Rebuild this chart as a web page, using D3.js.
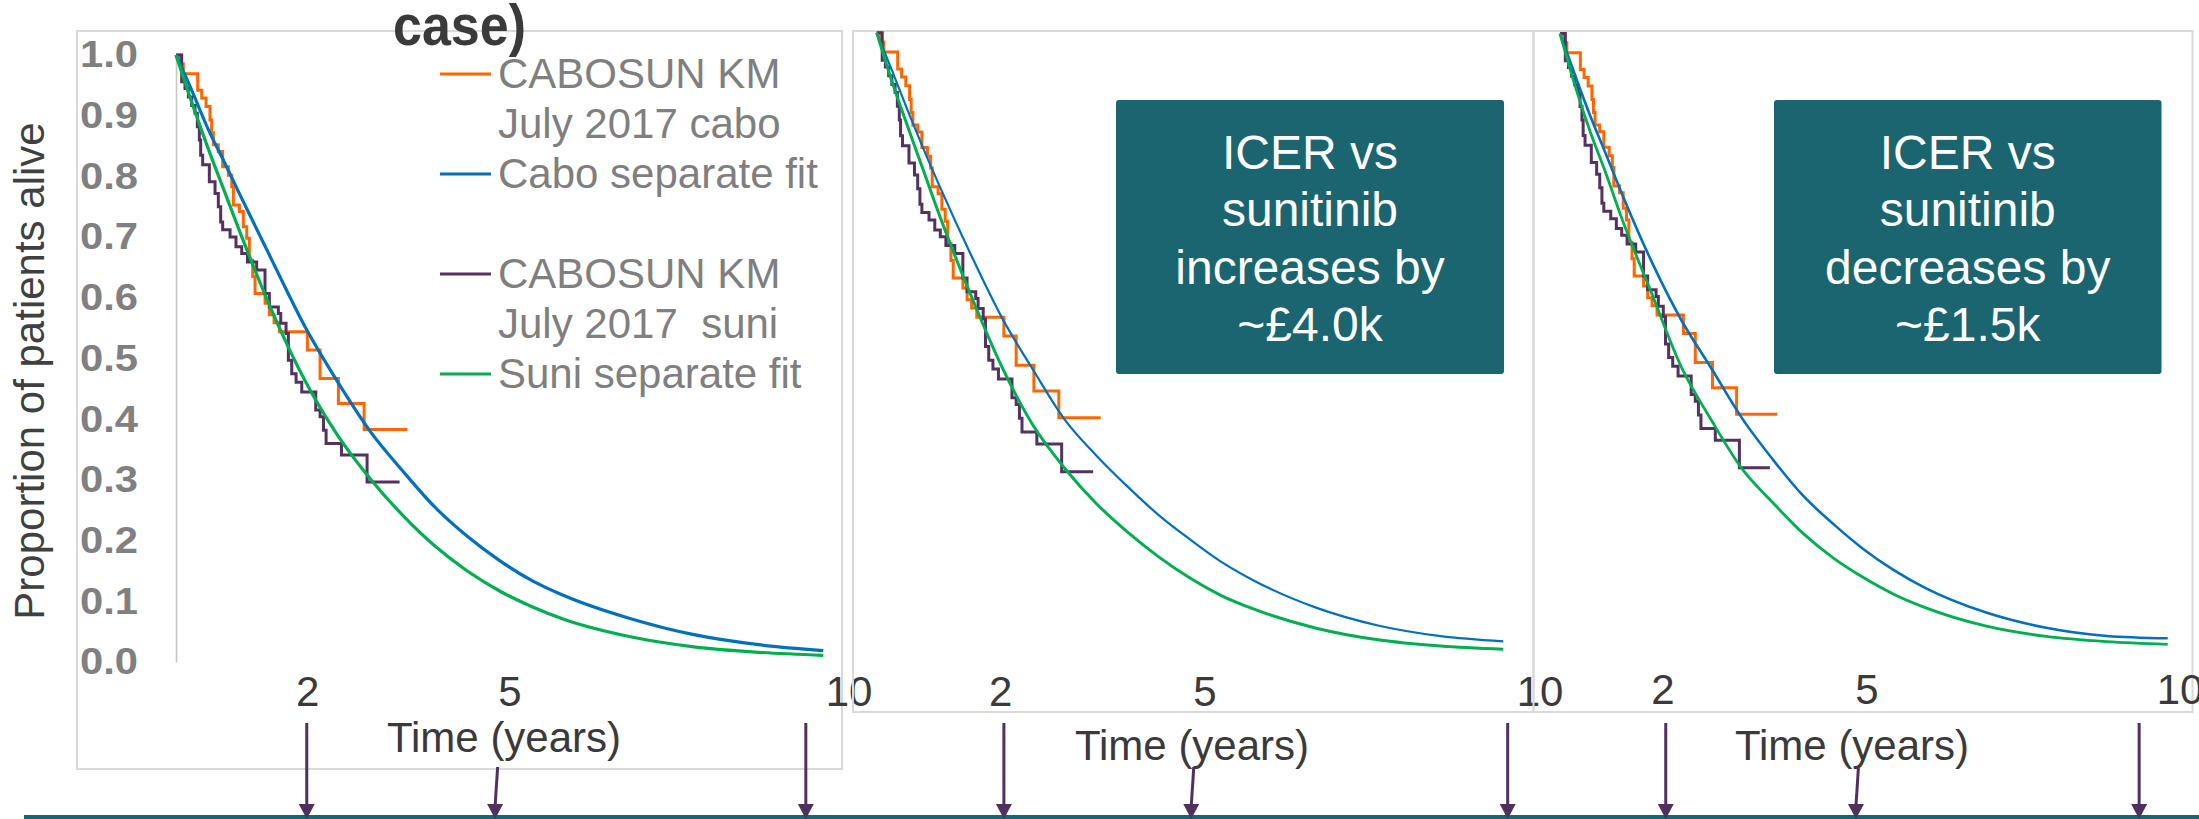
<!DOCTYPE html>
<html>
<head>
<meta charset="utf-8">
<script src="https://cdn.jsdelivr.net/npm/d3@7"></script>
<style>
  html, body { margin: 0; padding: 0; background: #ffffff; }
  svg { display: block; font-family: "Liberation Sans", Arial, sans-serif; }
</style>
</head>
<body>
<svg id="chart" width="2199" height="819"></svg>
<script>
// ---------------- DATA ----------------
// CABOSUN Kaplan-Meier (July 2017), time in years, proportion alive
const kmCaboTime = [0, 0.06, 0.113, 0.335, 0.397, 0.464, 0.525, 0.55, 0.577, 0.654, 0.721, 0.809, 0.861, 0.886, 0.979, 1.04, 1.093, 1.133, 1.185, 1.221, 1.376, 1.443, 1.515, 1.597, 2.03, 2.226, 2.509, 2.906, 3.575];
const kmCaboSurv = [1.0, 0.985, 0.969, 0.942, 0.929, 0.915, 0.893, 0.872, 0.852, 0.841, 0.816, 0.802, 0.783, 0.753, 0.742, 0.717, 0.698, 0.662, 0.635, 0.607, 0.591, 0.572, 0.559, 0.544, 0.514, 0.467, 0.426, 0.383, 0.383];
const kmSuniTime = [0, 0.088, 0.139, 0.191, 0.242, 0.294, 0.330, 0.361, 0.381, 0.412, 0.515, 0.603, 0.654, 0.690, 0.721, 0.835, 0.927, 1.015, 1.104, 1.246, 1.375, 1.442, 1.581, 1.618, 1.700, 1.736, 1.788, 1.855, 1.943, 2.159, 2.226, 2.278, 2.319, 2.556, 2.952, 3.454];
const kmSuniSurv = [1.0, 0.956, 0.945, 0.931, 0.917, 0.904, 0.882, 0.860, 0.835, 0.819, 0.791, 0.772, 0.750, 0.725, 0.712, 0.700, 0.684, 0.673, 0.659, 0.646, 0.607, 0.585, 0.574, 0.558, 0.541, 0.497, 0.475, 0.461, 0.445, 0.415, 0.404, 0.382, 0.360, 0.341, 0.2965, 0.2965];

// Fitted curves (years)
const fitTime = [0, 0.25, 0.5, 0.75, 1, 1.5, 2, 2.5, 3, 3.5, 4, 4.5, 5, 5.5, 6, 7, 8, 9, 10];
// panel 1 (base case)
const caboFitBase = [1.0, 0.940, 0.877, 0.823, 0.767, 0.658, 0.551, 0.461, 0.380, 0.315, 0.255, 0.207, 0.167, 0.134, 0.109, 0.072, 0.045, 0.0285, 0.0186];
const suniFitBase = [1.0, 0.920, 0.845, 0.775, 0.705, 0.574, 0.462, 0.373, 0.302, 0.242, 0.191, 0.150, 0.117, 0.091, 0.070, 0.042, 0.025, 0.016, 0.011];
// panel 2 (ICER increases)
const caboFitUp = [1.0, 0.938, 0.874, 0.813, 0.755, 0.645, 0.543, 0.459, 0.380, 0.323, 0.273, 0.227, 0.188, 0.152, 0.123, 0.079, 0.050, 0.033, 0.0247];
const suniFitUp = [1.0, 0.920, 0.848, 0.778, 0.708, 0.580, 0.464, 0.370, 0.302, 0.246, 0.200, 0.160, 0.126, 0.098, 0.077, 0.046, 0.027, 0.017, 0.0119];
// panel 3 (ICER decreases)
const caboFitDown = [1.0, 0.932, 0.866, 0.806, 0.745, 0.632, 0.535, 0.456, 0.376, 0.310, 0.251, 0.205, 0.164, 0.130, 0.102, 0.062, 0.037, 0.0237, 0.0199];
const suniFitDown = [1.0, 0.915, 0.840, 0.775, 0.705, 0.581, 0.459, 0.372, 0.294, 0.240, 0.190, 0.150, 0.118, 0.091, 0.070, 0.040, 0.023, 0.0145, 0.0102];

// Axis ticks / labels
const yTickValues = [0, 0.1, 0.2, 0.3, 0.4, 0.5, 0.6, 0.7, 0.8, 0.9, 1.0];
const xTickYears = [2, 5, 10];
const xTickLabels = ["2", "5", "10"];
const xAxisTitle = "Time (years)";
const yAxisTitle = "Proportion of patients alive";
const titleFragment = "case)";

const legendLabels = [
  ["CABOSUN KM", "July 2017 cabo"],
  ["Cabo separate fit"],
  [],
  ["CABOSUN KM", "July 2017  suni"],
  ["Suni separate fit"]
];
const legendColors = ["#ff6600", "#0070c0", null, "#553063", "#00b050"];

const boxTextUp = ["ICER vs", "sunitinib", "increases by", "~\u00a34.0k"];
const boxTextDown = ["ICER vs", "sunitinib", "decreases by", "~\u00a31.5k"];

// Arrow annotation times (years on each panel's time axis)
const arrowYears1 = [2.02, 4.93, 9.73];
const arrowYears2 = [2.03, 5.02, 10.07];
const arrowYears3 = [1.74, 4.87, 9.53];

// ---------------- STYLE / LAYOUT ----------------
const C = {
  orange: "#ff6600", blue: "#0070c0", purple: "#553063", green: "#00b050",
  frame: "#d9d9d9", axis: "#c6c6c6", tickGray: "#808080", dark: "#3a3a3a",
  legendGray: "#7f7f7f", teal: "#1a6570", arrow: "#50305f"
};

const panels = [
  { frame: [77, 31, 842, 769], xr: [176, 823.3], yr: [662, 55],
    cabo: caboFitBase, suni: suniFitBase, blueW: 3.2, greenW: 3.2,
    labelRange: [307.6, 510, 849], labelBase: 706, titleX: 504, titleBase: 752,
    arrows: arrowYears1, yAxis: true },
  { frame: [853, 31, 1533.5, 712], xr: [876.7, 1503.3], yr: [656.7, 32.7],
    cabo: caboFitUp, suni: suniFitUp, blueW: 2.2, greenW: 3.0,
    labelRange: [1000.8, 1205, 1540], labelBase: 706, titleX: 1192, titleBase: 760,
    arrows: arrowYears2, box: [1116, 100, 1504, 374], boxText: boxTextUp },
  { frame: [1533.5, 31, 2192.5, 712], xr: [1560, 2167.7], yr: [650.6, 33.6],
    cabo: caboFitDown, suni: suniFitDown, blueW: 2.6, greenW: 2.8,
    labelRange: [1663, 1867, 2180], labelBase: 704, titleX: 1852, titleBase: 760,
    arrows: arrowYears3, box: [1774, 100, 2161.5, 374], boxText: boxTextDown }
];

const svg = d3.select("#chart");

// bottom teal rule
svg.append("rect").attr("x", 24).attr("y", 815).attr("width", 2199 - 24).attr("height", 4).attr("fill", C.teal);

const kmCabo = kmCaboTime.map((t, i) => ({ t, s: kmCaboSurv[i] }));
const kmSuni = kmSuniTime.map((t, i) => ({ t, s: kmSuniSurv[i] }));

panels.forEach((p, pi) => {
  const g = svg.append("g");
  const [fx0, fy0, fx1, fy1] = p.frame;
  g.append("rect").attr("x", fx0).attr("y", fy0).attr("width", fx1 - fx0).attr("height", fy1 - fy0)
    .attr("fill", "none").attr("stroke", C.frame).attr("stroke-width", 2);

  const x = d3.scaleLinear().domain([0, 10]).range(p.xr);
  const y = d3.scaleLinear().domain([0, 1]).range(p.yr);

  if (p.yAxis) {
    const ax = g.append("g").attr("transform", `translate(${p.xr[0]},0)`)
      .call(d3.axisLeft(y).tickValues(yTickValues).tickSize(0).tickPadding(38).tickFormat(d3.format(".1f")));
    ax.select(".domain").attr("stroke", C.axis).attr("stroke-width", 1.6);
    ax.selectAll("text").attr("fill", C.tickGray).attr("font-size", 37).attr("font-weight", "bold")
      .attr("font-family", '"Liberation Sans", Arial, sans-serif')
      .attr("textLength", 58).attr("lengthAdjust", "spacingAndGlyphs");
  }

  // x tick labels (placed on the panel's label axis)
  const xl = d3.scaleLinear().domain(xTickYears).range(p.labelRange);
  g.selectAll("text.xt").data(xTickYears).join("text")
    .attr("class", "xt").attr("x", d => xl(d)).attr("y", p.labelBase)
    .attr("text-anchor", "middle").attr("font-size", 42).attr("fill", C.dark)
    .text((d, i) => xTickLabels[i]);

  g.append("text").attr("x", p.titleX).attr("y", p.titleBase).attr("text-anchor", "middle")
    .attr("font-size", 42).attr("fill", C.dark).text(xAxisTitle);

  // KM steps
  const stepLine = d3.line().x(d => x(d.t)).y(d => y(d.s)).curve(d3.curveStepAfter);
  g.append("path").datum(kmCabo).attr("d", stepLine).attr("fill", "none")
    .attr("stroke", C.orange).attr("stroke-width", 3).attr("stroke-linejoin", "miter");
  g.append("path").datum(kmSuni).attr("d", stepLine).attr("fill", "none")
    .attr("stroke", C.purple).attr("stroke-width", 3).attr("stroke-linejoin", "miter");

  // fitted curves
  const fitLine = d3.line().x(d => x(d.t)).y(d => y(d.s)).curve(d3.curveMonotoneX);
  g.append("path").datum(fitTime.map((t, i) => ({ t, s: p.cabo[i] }))).attr("d", fitLine)
    .attr("fill", "none").attr("stroke", C.blue).attr("stroke-width", p.blueW);
  g.append("path").datum(fitTime.map((t, i) => ({ t, s: p.suni[i] }))).attr("d", fitLine)
    .attr("fill", "none").attr("stroke", C.green).attr("stroke-width", p.greenW);

  // ICER box
  if (p.box) {
    const [bx0, by0, bx1, by1] = p.box;
    g.append("rect").attr("x", bx0).attr("y", by0).attr("width", bx1 - bx0).attr("height", by1 - by0)
      .attr("rx", 3).attr("fill", C.teal);
    g.selectAll("text.bt").data(p.boxText).join("text").attr("class", "bt")
      .attr("x", (bx0 + bx1) / 2).attr("y", (d, i) => 168.5 + i * 57.6)
      .attr("text-anchor", "middle").attr("font-size", 48).attr("fill", "#ffffff").text(d => d);
  }

  // arrows
  p.arrows.forEach((yr, ai) => {
    const ax = x(yr);
    const short = ai === 1;
    const topY = short ? 767 : 723;
    const topX = short ? ax + 2.5 : ax;
    g.append("line").attr("x1", topX).attr("y1", topY).attr("x2", ax).attr("y2", 806)
      .attr("stroke", C.arrow).attr("stroke-width", 3);
    g.append("path").attr("d", `M${ax - 8},804 L${ax + 8},804 L${ax},819 Z`).attr("fill", C.arrow);
  });
});

// y-axis title (panel 1)
svg.append("text").attr("transform", "translate(44,371) rotate(-90)").attr("text-anchor", "middle")
  .attr("font-size", 42).attr("fill", "#404040").text(yAxisTitle);

// title fragment
svg.append("text").attr("x", 393).attr("y", 45).attr("font-size", 58).attr("font-weight", "bold")
  .attr("fill", C.dark).attr("textLength", 133).attr("lengthAdjust", "spacingAndGlyphs").text(titleFragment);

// legend
const lg = svg.append("g");
const legendRowY = [88, 188, 238, 288, 388];
let rowBase = [ [88, 138], [188], [], [288, 338], [388] ];
legendLabels.forEach((lines, i) => {
  if (!lines.length) return;
  const base = rowBase[i];
  lg.append("line").attr("x1", 440).attr("x2", 491).attr("y1", base[0] - 14).attr("y2", base[0] - 14)
    .attr("stroke", legendColors[i]).attr("stroke-width", 3.2);
  lines.forEach((txt, j) => {
    lg.append("text").attr("x", 498).attr("y", base[j]).attr("font-size", 42)
      .attr("fill", C.legendGray).attr("xml:space", "preserve").style("white-space", "pre").text(txt);
  });
});
</script>
</body>
</html>
